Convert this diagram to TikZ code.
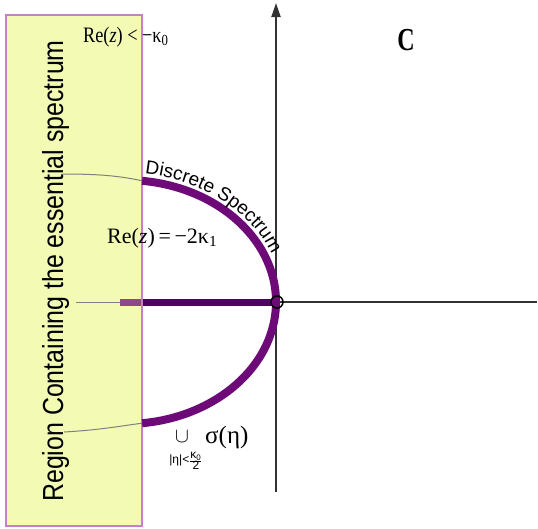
\documentclass[tikz,border=0pt]{standalone}
\usepackage{fontspec}
\setmainfont{Liberation Serif}
\newfontfamily\sansf{Liberation Sans}
\usetikzlibrary{arrows.meta,decorations.text}
\definecolor{regfill}{RGB}{242,250,180}
\definecolor{regedge}{RGB}{196,128,200}
\definecolor{specpurple}{RGB}{110,10,120}
\definecolor{segdark}{RGB}{78,0,98}
\definecolor{segpale}{RGB}{140,72,140}
\definecolor{axisgray}{RGB}{50,50,50}
\definecolor{leadgray}{RGB}{128,128,128}
\tikzset{
  axisline/.style={draw=axisgray, line width=2pt},
  specarc/.style={draw=specpurple, line width=8pt},
  leader/.style={draw=leadgray, line width=1pt},
  serif/.style={inner sep=0pt, font=\rmfamily},
}
\begin{document}
\begin{tikzpicture}[x=1pt,y=-1pt]
\useasboundingbox (0,0) rectangle (538,528);
% region
\path[fill=regfill] (6,15) rectangle (142,526);
% axes
\coordinate (O) at (277,302);
\coordinate (vbot) at (276,492);
\coordinate (vtop) at (276,3);
\coordinate (hright) at (537,302);
\draw[axisline] (O) -- (hright);
\draw[axisline, -{Triangle[length=14pt,width=9pt]}] (vbot) -- (vtop);
% horizontal segment
\coordinate (segA) at (120,302);
\coordinate (segB) at (142,302);
\draw[draw=segpale, line width=7pt] (segA) -- (segB);
\draw[draw=segdark, line width=7pt] (segB) -- (O);
% region border
\draw[draw=regedge, line width=2pt] (6,15) rectangle (142,526);
% arc
\coordinate (c) at (125,302);
\draw[specarc] (c) ++(-83.5:151 and 122) coordinate (arctop)
  arc[start angle=-83.5, end angle=83.5, x radius=151, y radius=122] coordinate (arcbot);
\draw[draw=black, line width=1.5pt] (O) circle[radius=6];
% label
\node[rotate=90, anchor=base, inner sep=0pt] (reglabel) at (63,271)
  {\sansf\fontsize{29}{29}\selectfont\scalebox{0.86}[1]{Region Containing the essential spectrum}};
\coordinate (ltop) at (62,174);
\coordinate (lmid) at (76,302);
\coordinate (lbot) at (64,432);
\draw[leader] (ltop) .. controls (100,174) and (120,176) .. (arctop);
\draw[leader] (lbot) .. controls (100,430) and (120,426) .. (arcbot);
\draw[leader] (lmid) -- (segA);
% discrete spectrum text
\path[decorate, decoration={text along path, text align=center,
  text={|\sansf\fontsize{19}{19}\selectfont|Discrete Spectrum}}]
  (c) ++(-86:158 and 129) arc[start angle=-86, end angle=-18, x radius=158, y radius=129];
% texts
\node[serif, anchor=base west] (re0) at (83,42)
  {\fontsize{22}{22}\selectfont\scalebox{0.83}[1]{Re(\textit{z}) < −κ\textsubscript{0}}};
\node[serif, anchor=base west] (re1) at (107,243)
  {\fontsize{22}{22}\selectfont Re(\textit{z})\,=\,−2κ\textsubscript{1}};
\node[serif, anchor=center] (cee) at (406,40)
  {\fontsize{32}{32}\selectfont\scalebox{0.75}[1]{\textbf{C}}};
\node[inner sep=0pt, anchor=base] (cup) at (182,442) {\fontsize{22}{22}\selectfont$\cup$};
\node[serif, anchor=base west] (sig) at (205,443)
  {\fontsize{25}{25}\selectfont σ(η)};
\node[inner sep=0pt] (cond) at (186,461)
  {\sansf\fontsize{12}{12}\selectfont |η|<$\frac{\mbox{κ\textsubscript{0}}}{\mbox{2}}$};
\end{tikzpicture}
\end{document}
